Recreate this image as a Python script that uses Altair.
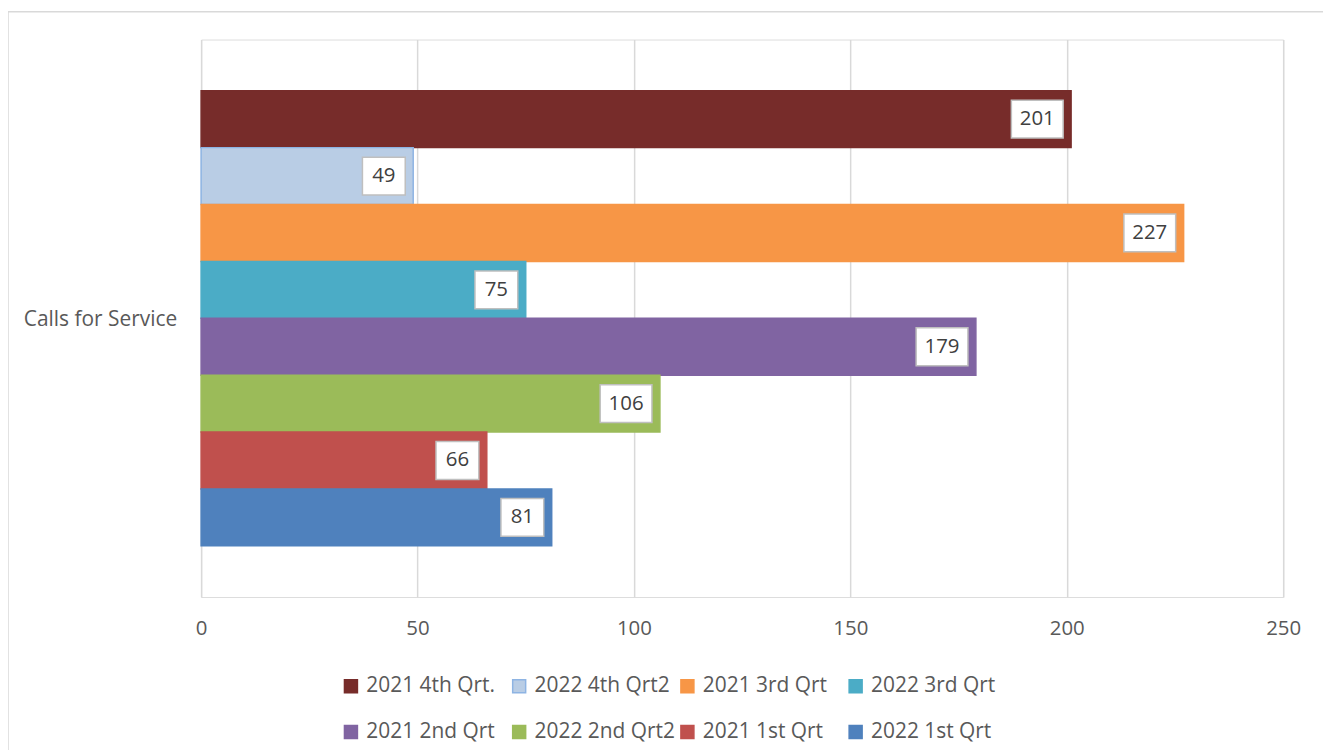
import altair as alt
import pandas as pd

category = "Calls for Service"
series = ["2021 4th Qrt.", "2022 4th Qrt2", "2021 3rd Qrt", "2022 3rd Qrt",
          "2021 2nd Qrt", "2022 2nd Qrt2", "2021 1st Qrt", "2022 1st Qrt"]
values = [201, 49, 227, 75, 179, 106, 66, 81]
fill_colors = ["#772C2A", "#B9CDE5", "#F79646", "#4BACC6",
               "#8064A2", "#9BBB59", "#C0504D", "#4F81BD"]
stroke_colors = ["#772C2A", "#8EB4E3", "#F79646", "#4BACC6",
                 "#8064A2", "#9BBB59", "#C0504D", "#4F81BD"]
x_ticks = [0, 50, 100, 150, 200, 250]

df = pd.DataFrame({"series": series, "value": values})
df["label"] = df["value"].astype(str)

W, H = 1087, 560
FONT = "Open Sans"
GRAY = "#595959"

legend = alt.Legend(
    title=None, orient="none", legendX=140, legendY=639, columns=4,
    direction="horizontal", gridAlign="all", columnPadding=1, rowPadding=24,
    symbolType="square", symbolSize=170, symbolStrokeWidth=1.5,
    labelFontSize=21, labelFont=FONT, labelColor=GRAY, labelOffset=5,
)

y_enc = alt.Y("series:N", sort=series, axis=None,
              scale=alt.Scale(paddingInner=0, paddingOuter=0.9))
x_enc = alt.X("value:Q", scale=alt.Scale(domain=[0, 250], nice=False, zero=True),
              axis=alt.Axis(values=x_ticks, title=None, grid=True, gridColor="#D9D9D9",
                            gridWidth=1.5, domain=False, ticks=False, labelPadding=22,
                            labelFlush=False,
                            labelFontSize=20.5, labelFont=FONT, labelColor=GRAY))

base = alt.Chart(df)

bars = base.mark_bar(strokeWidth=1.5).encode(
    x=x_enc,
    y=y_enc,
    fill=alt.Fill("series:N", sort=series,
                  scale=alt.Scale(domain=series, range=fill_colors), legend=legend),
    stroke=alt.Stroke("series:N", sort=series,
                      scale=alt.Scale(domain=series, range=stroke_colors), legend=legend),
)

def box_layer(cond, left_off):
    return base.transform_filter(cond).mark_bar(
        height=38, fill="white", stroke="#BFBFBF", strokeWidth=1.5,
        xOffset=-8, x2Offset=left_off,
    ).encode(x="value:Q", x2="value:Q", y=y_enc)

def text_layer(cond, center_off):
    return base.transform_filter(cond).mark_text(
        fontSize=20.5, font=FONT, color="#404040", xOffset=center_off, align="center",
        baseline="middle",
    ).encode(x="value:Q", y=y_enc, text="label:N")

boxes3 = box_layer("datum.value >= 100", -60)
boxes2 = box_layer("datum.value < 100", -51)
text3 = text_layer("datum.value >= 100", -34)
text2 = text_layer("datum.value < 100", -29.5)

cat_label = alt.Chart(pd.DataFrame({"cat": [category]})).mark_text(
    align="right", baseline="middle", fontSize=21, font=FONT, color=GRAY,
).encode(x=alt.value(-24), y=alt.value(H / 2 + 2), text="cat:N")

frame = alt.Chart(pd.DataFrame({"f": [0]})).mark_rect(
    fillOpacity=0, stroke="#D9D9D9", strokeWidth=1.5,
).encode(x=alt.value(-194), x2=alt.value(1300), y=alt.value(-28), y2=alt.value(900))

chart = alt.layer(frame, bars, boxes3, boxes2, text3, text2, cat_label).properties(
    width=W, height=H,
    autosize=alt.AutoSizeParams(type="none"),
    padding={"left": 194, "top": 30, "right": 40, "bottom": 152},
).configure_view(stroke=None).configure(background="white")

chart.save("out.html", embed_options={"renderer": "svg", "actions": False})
